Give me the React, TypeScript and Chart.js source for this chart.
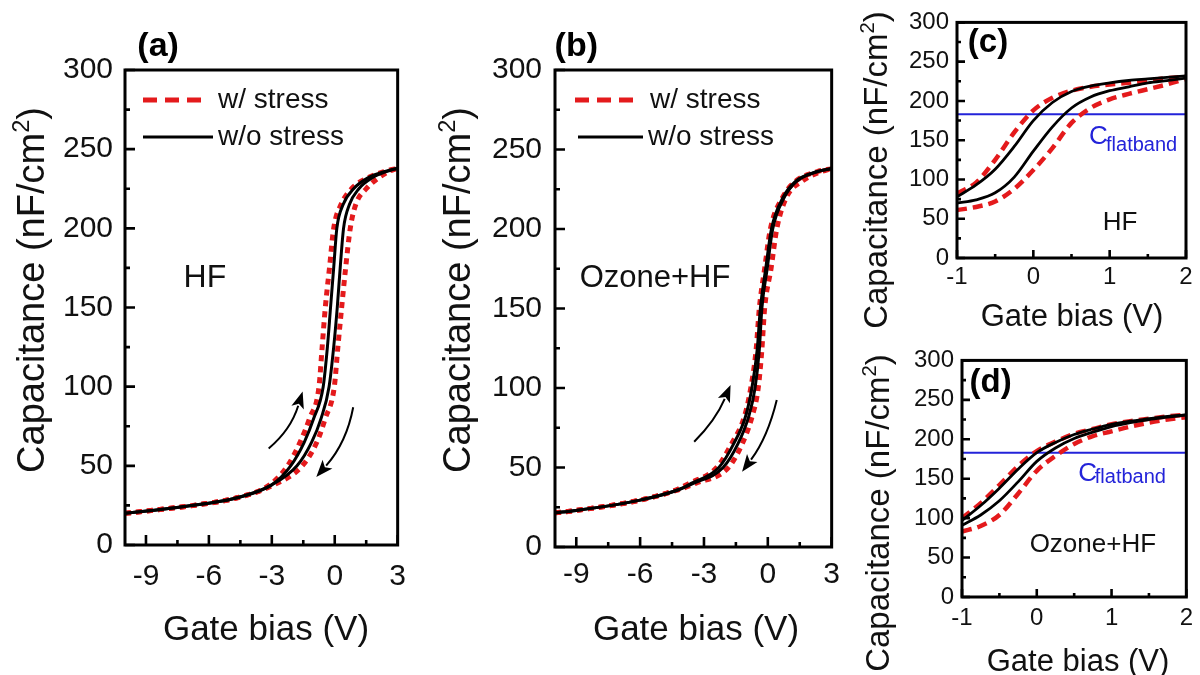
import React, { useEffect, useRef } from "react";
import { Chart, registerables } from "chart.js";

Chart.register(...registerables);

const FONT = "'Liberation Sans', Arial, Helvetica, sans-serif";
const INK = "#111111";
const RED = "#e41a1c";
const BLUE = "#2323d9";

// ---------- Panel (a): HF, full sweep (capacitance levels, bias at each level) ----------
const aCap = [20, 22, 26, 30, 38, 50, 65, 80, 100, 125, 150, 175, 200, 215, 225, 232, 236, 238];
const aBlackUp = [-10, -8.6, -6.2, -4.6, -3.0, -2.1, -1.45, -1.0, -0.55, -0.35, -0.2, -0.05, 0.1, 0.4, 0.9, 1.6, 2.4, 3];
const aBlackDown = [-10, -8.6, -6.2, -4.6, -3.0, -1.8, -1.1, -0.65, -0.27, -0.05, 0.12, 0.26, 0.42, 0.7, 1.15, 1.8, 2.5, 3];
const aRedUp = [-10, -8.6, -6.2, -4.6, -3.1, -2.25, -1.65, -1.2, -0.75, -0.6, -0.45, -0.25, -0.05, 0.3, 0.8, 1.6, 2.4, 3];
const aRedDown = [-10, -8.6, -6.2, -4.6, -2.9, -1.55, -0.85, -0.45, -0.02, 0.15, 0.33, 0.52, 0.74, 1.0, 1.5, 2.1, 2.6, 3];

// ---------- Panel (b): Ozone+HF, full sweep ----------
const bCap = [21.5, 23, 29.5, 36, 40, 50, 65, 82, 100, 124, 150, 175, 200, 220, 230, 236, 238];
const bBlackUp = [-10, -9, -6, -4.2, -3.6, -2.3, -1.6, -1.05, -0.75, -0.5, -0.35, -0.1, 0.17, 0.72, 1.3, 2.3, 3];
const bBlackDown = [-10, -9, -6, -4.2, -3.5, -2.1, -1.4, -0.9, -0.6, -0.4, -0.28, -0.03, 0.23, 0.78, 1.35, 2.3, 3];
const bRedUp = [-10, -9, -6, -4.3, -3.7, -2.4, -1.7, -1.1, -0.8, -0.55, -0.4, -0.15, 0.12, 0.7, 1.3, 2.3, 3];
const bRedDown = [-10, -9, -6, -4.2, -3.4, -1.85, -1.2, -0.74, -0.45, -0.28, -0.15, 0.15, 0.42, 0.88, 1.6, 2.5, 3];

// ---------- Panels (c) and (d): zoomed bias window ----------
const zoomBias = [-1, -0.75, -0.5, -0.25, 0, 0.25, 0.5, 0.75, 1, 1.25, 1.5, 1.75, 2];
const cBlackUp = [78, 93, 113, 142, 175, 198, 212, 219, 223, 226, 228, 230, 232];
const cBlackDown = [70, 74, 83, 103, 136, 167, 191, 205, 213, 218, 223, 226, 229];
const cRedUp = [82, 96, 125, 160, 188, 204, 213, 218, 221, 223, 226, 229, 231];
const cRedDown = [61, 65, 72, 88, 112, 140, 172, 191, 202, 209, 215, 221, 228];

const dBlackUp = [97, 116, 138, 162, 183, 196, 206, 213, 219, 223, 226, 229, 231];
const dBlackDown = [91, 104, 122, 146, 172, 189, 201, 209, 216, 221, 225, 228, 231];
const dRedUp = [100, 119, 142, 166, 185, 197, 207, 213, 219, 223, 226, 229, 231];
const dRedDown = [83, 90, 104, 131, 160, 179, 194, 204, 210, 216, 221, 225, 228];

const flatband = 183;

// ---------- Ticks ----------
const fullXTicks = [-9, -6, -3, 0, 3];
const fullXMinor = [-7.5, -4.5, -1.5, 1.5];
const zoomXTicks = [-1, 0, 1, 2];
const zoomXMinor = [-0.5, 0.5, 1.5];
const capTicks = [0, 50, 100, 150, 200, 250, 300];
const capMinor = [25, 75, 125, 175, 225, 275];

const legendLabels = ["w/ stress", "w/o stress"];
const xTitle = "Gate bias (V)";

type Pt = { x: number; y: number };
const pts = (xs: number[], ys: number[]): Pt[] => xs.map((x, i) => ({ x, y: ys[i] }));

const line = (data: Pt[], color: string, width: number, dash: number[], order: number) => ({
  data,
  borderColor: color,
  borderWidth: width,
  borderDash: dash,
  pointRadius: 0,
  fill: false,
  order,
  cubicInterpolationMode: "monotone" as const,
});

type TextItem = {
  x: number; y: number; text: string; size: number; bold?: boolean; color?: string;
  align?: CanvasTextAlign; baseline?: CanvasTextBaseline;
};
type Arrow = { from: [number, number]; ctrl: [number, number]; to: [number, number] };
type LegendItem = { dx: number; dy: number; len: number; textDx: number; label: string; color: string; width: number; dash: number[] };
type Title = { cx: number; cy: number; size: number };

type PanelCfg = {
  left: number; top: number; width: number; height: number;
  padding: { left: number; right: number; top: number; bottom: number };
  yWidth: number; xHeight: number;
  xMin: number; xMax: number; xTicks: number[]; xMinor: number[];
  tickSize: number; xTickPad: number; yTickPad: number;
  yTitle: Title; xTitle: Title;
  datasets: any[];
  texts: TextItem[];
  arrows: Arrow[];
  legend: LegendItem[];
  legendSize: number;
  majorLen: number; minorLen: number;
};

function drawParts(
  ctx: CanvasRenderingContext2D,
  parts: { t: string; k: number; rise: number }[],
  size: number, cx: number, cy: number, rot: number
) {
  ctx.save();
  ctx.translate(cx, cy);
  ctx.rotate(rot);
  ctx.fillStyle = INK;
  ctx.textBaseline = "middle";
  ctx.textAlign = "left";
  let total = 0;
  const widths = parts.map((p) => {
    ctx.font = `${size * p.k}px ${FONT}`;
    const w = ctx.measureText(p.t).width;
    total += w;
    return w;
  });
  let x = -total / 2;
  parts.forEach((p, i) => {
    ctx.font = `${size * p.k}px ${FONT}`;
    ctx.fillText(p.t, x, -p.rise * size);
    x += widths[i];
  });
  ctx.restore();
}

const decorPlugin = (cfg: PanelCfg) => ({
  id: "decor",
  afterDatasetsDraw(chart: any) {
    const { ctx, chartArea: a, scales } = chart;
    const X = (v: number) => scales.x.getPixelForValue(v);
    const Y = (v: number) => scales.y.getPixelForValue(v);
    ctx.save();
    // frame
    ctx.strokeStyle = "#000";
    ctx.lineWidth = 3;
    ctx.setLineDash([]);
    ctx.strokeRect(a.left, a.top, a.right - a.left, a.bottom - a.top);
    // inward ticks
    ctx.lineWidth = 2.6;
    ctx.beginPath();
    cfg.xTicks.forEach((v) => { ctx.moveTo(X(v), a.bottom); ctx.lineTo(X(v), a.bottom - cfg.majorLen); });
    cfg.xMinor.forEach((v) => { ctx.moveTo(X(v), a.bottom); ctx.lineTo(X(v), a.bottom - cfg.minorLen); });
    capTicks.forEach((v) => { ctx.moveTo(a.left, Y(v)); ctx.lineTo(a.left + cfg.majorLen, Y(v)); });
    capMinor.forEach((v) => { ctx.moveTo(a.left, Y(v)); ctx.lineTo(a.left + cfg.minorLen, Y(v)); });
    ctx.stroke();
    // arrows
    cfg.arrows.forEach((ar) => {
      const p0 = [X(ar.from[0]), Y(ar.from[1])];
      const c = [X(ar.ctrl[0]), Y(ar.ctrl[1])];
      const t = [X(ar.to[0]), Y(ar.to[1])];
      let dx = t[0] - c[0], dy = t[1] - c[1];
      const L = Math.hypot(dx, dy) || 1;
      dx /= L; dy /= L;
      const hl = 17, hw = 6.5;
      const b = [t[0] - dx * hl, t[1] - dy * hl];
      ctx.strokeStyle = "#000";
      ctx.lineWidth = 2;
      ctx.beginPath();
      ctx.moveTo(p0[0], p0[1]);
      ctx.quadraticCurveTo(c[0], c[1], b[0] + dx * 2, b[1] + dy * 2);
      ctx.stroke();
      ctx.fillStyle = "#000";
      ctx.beginPath();
      ctx.moveTo(t[0], t[1]);
      ctx.lineTo(b[0] - dy * hw, b[1] + dx * hw);
      ctx.lineTo(b[0] + dx * 4, b[1] + dy * 4);
      ctx.lineTo(b[0] + dy * hw, b[1] - dx * hw);
      ctx.closePath();
      ctx.fill();
    });
    // texts
    cfg.texts.forEach((t) => {
      ctx.fillStyle = t.color || INK;
      ctx.font = `${t.bold ? "bold " : ""}${t.size}px ${FONT}`;
      ctx.textAlign = t.align || "center";
      ctx.textBaseline = t.baseline || "middle";
      ctx.fillText(t.text, X(t.x), Y(t.y));
    });
    // legend
    cfg.legend.forEach((l) => {
      const y0 = a.top + l.dy;
      ctx.strokeStyle = l.color;
      ctx.lineWidth = l.width;
      ctx.setLineDash(l.dash);
      ctx.lineCap = "butt";
      ctx.beginPath();
      ctx.moveTo(a.left + l.dx, y0);
      ctx.lineTo(a.left + l.dx + l.len, y0);
      ctx.stroke();
      ctx.setLineDash([]);
      ctx.fillStyle = INK;
      ctx.font = `${cfg.legendSize}px ${FONT}`;
      ctx.textAlign = "left";
      ctx.textBaseline = "middle";
      ctx.fillText(l.label, a.left + l.textDx, y0);
    });
    ctx.restore();
    // axis titles
    drawParts(
      ctx,
      [
        { t: "Capacitance (nF/cm", k: 1, rise: 0 },
        { t: "2", k: 0.62, rise: 0.3 },
        { t: ")", k: 1, rise: 0 },
      ],
      cfg.yTitle.size, cfg.yTitle.cx, cfg.yTitle.cy, -Math.PI / 2
    );
    drawParts(ctx, [{ t: xTitle, k: 1, rise: 0 }], cfg.xTitle.size, cfg.xTitle.cx, cfg.xTitle.cy, 0);
  },
});

const fullLegend = (dxR: number, lenR: number, txR: number, dxB: number, lenB: number, txB: number): LegendItem[] => [
  { dx: dxR, dy: 30, len: lenR, textDx: txR, label: legendLabels[0], color: RED, width: 5, dash: [14, 8] },
  { dx: dxB, dy: 67, len: lenB, textDx: txB, label: legendLabels[1], color: "#000", width: 3, dash: [] },
];

const panelA: PanelCfg = {
  left: 0, top: 0, width: 420, height: 675,
  padding: { left: 0, right: 14, top: 70, bottom: 10 },
  yWidth: 125, xHeight: 120,
  xMin: -10, xMax: 3, xTicks: fullXTicks, xMinor: fullXMinor,
  tickSize: 30, xTickPad: 14, yTickPad: 12,
  yTitle: { cx: 34, cy: 290, size: 38 }, xTitle: { cx: 266, cy: 630, size: 35 },
  datasets: [
    line(pts(aRedUp, aCap), RED, 5, [6, 5], 2),
    line(pts(aRedDown, aCap), RED, 5, [6, 5], 2),
    line(pts(aBlackUp, aCap), "#000", 3, [], 1),
    line(pts(aBlackDown, aCap), "#000", 3, [], 1),
  ],
  texts: [
    { x: -8.42, y: 314.6, text: "(a)", size: 34, bold: true, color: "#000" },
    { x: -6.19, y: 168.7, text: "HF", size: 32 },
  ],
  arrows: [
    { from: [-3.15, 61], ctrl: [-2.1, 72.6], to: [-1.53, 97] },
    { from: [0.88, 87], ctrl: [0.57, 64.9], to: [-0.88, 43] },
  ],
  legend: fullLegend(18, 60, 93, 18, 70, 93),
  legendSize: 28, majorLen: 10, minorLen: 5,
};

const panelB: PanelCfg = {
  left: 420, top: 0, width: 430, height: 675,
  padding: { left: 0, right: 15, top: 70, bottom: 10 },
  yWidth: 135, xHeight: 118,
  xMin: -10, xMax: 3, xTicks: fullXTicks, xMinor: fullXMinor,
  tickSize: 30, xTickPad: 10, yTickPad: 13,
  yTitle: { cx: 40, cy: 290, size: 38 }, xTitle: { cx: 276, cy: 630, size: 35 },
  datasets: [
    line(pts(bRedUp, bCap), RED, 5, [6, 5], 2),
    line(pts(bRedDown, bCap), RED, 5, [6, 5], 2),
    line(pts(bBlackUp, bCap), "#000", 3, [], 1),
    line(pts(bBlackDown, bCap), "#000", 3, [], 1),
  ],
  texts: [
    { x: -9.0, y: 314.5, text: "(b)", size: 34, bold: true, color: "#000" },
    { x: -5.3, y: 169.2, text: "Ozone+HF", size: 31 },
  ],
  arrows: [
    { from: [-3.46, 66.2], ctrl: [-2.45, 79.9], to: [-1.75, 101.9] },
    { from: [0.42, 92.5], ctrl: [-0.01, 68.9], to: [-1.21, 47.4] },
  ],
  legend: fullLegend(20, 60, 95, 23, 65, 93),
  legendSize: 28, majorLen: 10, minorLen: 5,
};

const flatLine = () => line(pts([zoomBias[0], zoomBias[zoomBias.length - 1]], [flatband, flatband]), BLUE, 2, [], 3);

const panelC: PanelCfg = {
  left: 850, top: 0, width: 350, height: 340,
  padding: { left: 0, right: 14, top: 20, bottom: 0 },
  yWidth: 107, xHeight: 82,
  xMin: -1, xMax: 2, xTicks: zoomXTicks, xMinor: zoomXMinor,
  tickSize: 24, xTickPad: 5, yTickPad: 8,
  yTitle: { cx: 28, cy: 170, size: 33 }, xTitle: { cx: 222, cy: 317, size: 31 },
  datasets: [
    flatLine(),
    line(pts(zoomBias, cRedUp), RED, 4.5, [10, 6], 2),
    line(pts(zoomBias, cRedDown), RED, 4.5, [10, 6], 2),
    line(pts(zoomBias, cBlackUp), "#000", 2.8, [], 1),
    line(pts(zoomBias, cBlackDown), "#000", 2.8, [], 1),
  ],
  texts: [
    { x: -0.594, y: 273.5, text: "(c)", size: 33, bold: true, color: "#000" },
    { x: 1.135, y: 45.4, text: "HF", size: 26 },
    { x: 0.729, y: 145, text: "C", size: 26, color: BLUE, align: "left", baseline: "alphabetic" },
    { x: 0.952, y: 136, text: "flatband", size: 20, color: BLUE, align: "left", baseline: "alphabetic" },
  ],
  arrows: [],
  legend: [],
  legendSize: 22, majorLen: 8, minorLen: 4,
};

const panelD: PanelCfg = {
  left: 850, top: 338, width: 350, height: 345,
  padding: { left: 0, right: 10, top: 22, bottom: 0 },
  yWidth: 112, xHeight: 86,
  xMin: -1, xMax: 2, xTicks: zoomXTicks, xMinor: zoomXMinor,
  tickSize: 24, xTickPad: 7, yTickPad: 8,
  yTitle: { cx: 30, cy: 175, size: 33 }, xTitle: { cx: 228, cy: 324, size: 31 },
  datasets: [
    flatLine(),
    line(pts(zoomBias, dRedUp), RED, 4.5, [10, 6], 2),
    line(pts(zoomBias, dRedDown), RED, 4.5, [10, 6], 2),
    line(pts(zoomBias, dBlackUp), "#000", 2.8, [], 1),
    line(pts(zoomBias, dBlackDown), "#000", 2.8, [], 1),
  ],
  texts: [
    { x: -0.618, y: 272, text: "(d)", size: 33, bold: true, color: "#000" },
    { x: 0.75, y: 65.8, text: "Ozone+HF", size: 26 },
    { x: 0.553, y: 146.8, text: "C", size: 26, color: BLUE, align: "left", baseline: "alphabetic" },
    { x: 0.776, y: 144, text: "flatband", size: 20, color: BLUE, align: "left", baseline: "alphabetic" },
  ],
  arrows: [],
  legend: [],
  legendSize: 22, majorLen: 8, minorLen: 4,
};

function Panel({ cfg }: { cfg: PanelCfg }) {
  const ref = useRef<HTMLCanvasElement>(null);
  useEffect(() => {
    const canvas = ref.current;
    if (!canvas) return;
    const chart = new Chart(canvas, {
      type: "line",
      data: { datasets: cfg.datasets },
      options: {
        animation: false,
        responsive: false,
        devicePixelRatio: 1,
        layout: { padding: cfg.padding },
        plugins: { legend: { display: false }, tooltip: { enabled: false } },
        scales: {
          x: {
            type: "linear",
            min: cfg.xMin,
            max: cfg.xMax,
            grid: { display: false, drawTicks: false },
            border: { display: false },
            afterBuildTicks: (s: any) => { s.ticks = cfg.xTicks.map((v) => ({ value: v })); },
            afterFit: (s: any) => { s.height = cfg.xHeight; },
            ticks: { font: { family: FONT, size: cfg.tickSize }, color: INK, padding: cfg.xTickPad, maxRotation: 0, autoSkip: false },
            title: { display: false },
          },
          y: {
            type: "linear",
            min: 0,
            max: 300,
            grid: { display: false, drawTicks: false },
            border: { display: false },
            afterBuildTicks: (s: any) => { s.ticks = capTicks.map((v) => ({ value: v })); },
            afterFit: (s: any) => { s.width = cfg.yWidth; },
            ticks: { font: { family: FONT, size: cfg.tickSize }, color: INK, padding: cfg.yTickPad, autoSkip: false },
            title: { display: false },
          },
        },
      } as any,
      plugins: [decorPlugin(cfg)],
    });
    return () => chart.destroy();
  }, [cfg]);
  return (
    <canvas
      ref={ref}
      width={cfg.width}
      height={cfg.height}
      style={{ position: "absolute", left: cfg.left, top: cfg.top, width: cfg.width, height: cfg.height }}
    />
  );
}

export default function App() {
  return (
    <div
      style={{
        position: "fixed", left: 0, top: 0, width: 1200, height: 675,
        overflow: "hidden", background: "#ffffff",
      }}
    >
      <Panel cfg={panelA} />
      <Panel cfg={panelB} />
      <Panel cfg={panelC} />
      <Panel cfg={panelD} />
    </div>
  );
}
